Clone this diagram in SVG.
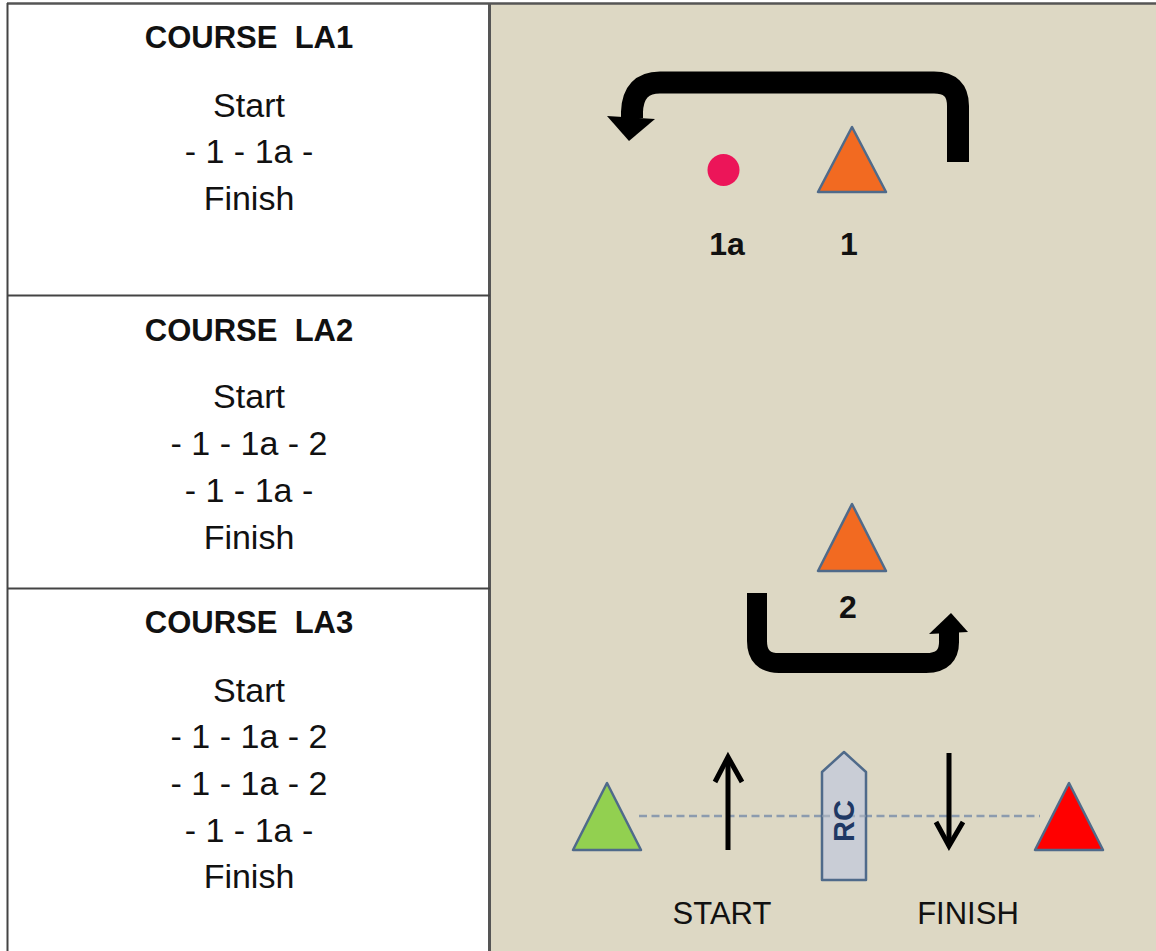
<svg xmlns="http://www.w3.org/2000/svg" width="1156" height="951" viewBox="0 0 1156 951">
  <defs>
    <style>
      .title { font-family: "Liberation Sans", Arial, sans-serif; font-weight: bold; font-size: 31px; fill: #111; text-anchor: middle; white-space: pre; }
      .body { font-family: "Liberation Sans", Arial, sans-serif; font-size: 34px; fill: #111; text-anchor: middle; }
      .lbl { font-family: "Liberation Sans", Arial, sans-serif; font-weight: bold; font-size: 32px; fill: #111; text-anchor: middle; }
      .line-lbl { font-family: "Liberation Sans", Arial, sans-serif; font-size: 31px; fill: #111; text-anchor: middle; }
      .mark { stroke: #4F6A8A; stroke-width: 2.5; stroke-linejoin: round; }
      .orange { fill: #F26A21; }
      .thick { fill: none; stroke: #000; stroke-linecap: butt; stroke-linejoin: round; }
      .thin { fill: none; stroke: #000; stroke-width: 5; stroke-linecap: butt; stroke-linejoin: miter; }
    </style>
  </defs>

  <!-- backgrounds -->
  <rect x="0" y="0" width="1156" height="951" fill="#fff"/>
  <rect x="490" y="3" width="666" height="948" fill="#DDD8C4"/>
  <line x1="7" y1="3.5" x2="1156" y2="3.5" stroke="#555" stroke-width="2.5"/>
  <line x1="7.5" y1="3" x2="7.5" y2="951" stroke="#444" stroke-width="2"/>
  <line x1="489.5" y1="3" x2="489.5" y2="951" stroke="#555" stroke-width="3"/>
  <line x1="7" y1="295.5" x2="490" y2="295.5" stroke="#444" stroke-width="2"/>
  <line x1="7" y1="588.5" x2="490" y2="588.5" stroke="#444" stroke-width="2"/>

  <!-- course table -->
  <g id="course-la1">
    <text class="title" x="249" y="48" xml:space="preserve">COURSE  LA1</text>
    <text class="body" x="249" y="117">Start</text>
    <text class="body" x="249" y="163">- 1 - 1a -</text>
    <text class="body" x="249" y="210">Finish</text>
  </g>
  <g id="course-la2">
    <text class="title" x="249" y="341" xml:space="preserve">COURSE  LA2</text>
    <text class="body" x="249" y="408">Start</text>
    <text class="body" x="249" y="455">- 1 - 1a - 2</text>
    <text class="body" x="249" y="502">- 1 - 1a -</text>
    <text class="body" x="249" y="549">Finish</text>
  </g>
  <g id="course-la3">
    <text class="title" x="249" y="633" xml:space="preserve">COURSE  LA3</text>
    <text class="body" x="249" y="702">Start</text>
    <text class="body" x="249" y="748">- 1 - 1a - 2</text>
    <text class="body" x="249" y="795">- 1 - 1a - 2</text>
    <text class="body" x="249" y="842">- 1 - 1a -</text>
    <text class="body" x="249" y="888">Finish</text>
  </g>

  <!-- connectors -->
  <g id="connectors">
    <path class="thick" stroke-width="22" d="M958,162 V106 Q958,82.5 934,82.5 H660 Q633,82.5 632,112 V118"/>
    <polygon points="607,116 655,119 629,141" fill="#000"/>
    <path class="thick" stroke-width="20" d="M757,593 V641 Q757,663 779,663 H926 Q950,663 949,640 V632"/>
    <polygon points="929,634 968,632 951,613" fill="#000"/>
    <line x1="639" y1="816" x2="1040" y2="816" stroke="#8C9BAE" stroke-width="2.5" stroke-dasharray="8 4.5"/>
    <polyline class="thin" points="728,850 728,758"/>
    <polyline class="thin" points="715,782 728,757 742,782"/>
    <polyline class="thin" points="949,753 949,844"/>
    <polyline class="thin" points="936,822 949,846 963,822"/>
  </g>

  <!-- marks -->
  <g id="mark-1">
    <polygon class="mark orange" points="852,127 818,192 886,192"/>
    <text class="lbl" x="849" y="255">1</text>
  </g>
  <g id="mark-1a">
    <circle cx="723.5" cy="170" r="16" fill="#EC1559"/>
    <text class="lbl" x="727" y="255">1a</text>
  </g>
  <g id="mark-2">
    <polygon class="mark orange" points="852,504 818,571 886,571"/>
    <text class="lbl" x="848" y="618">2</text>
  </g>
  <g id="start-pin">
    <polygon class="mark" fill="#92D050" points="607,783 573,850 641,850"/>
  </g>
  <g id="finish-pin">
    <polygon class="mark" fill="#FF0000" points="1069,783 1035,850 1103,850"/>
  </g>
  <g id="rc-boat">
    <polygon points="822,772 844,752 866,772 866,880 822,880" fill="#C9CDD6" stroke="#4F6A8A" stroke-width="2.5" stroke-linejoin="round"/>
    <line x1="822" y1="816" x2="866" y2="816" stroke="#8C9BAE" stroke-width="2.5" stroke-dasharray="8 4.5" opacity="0.6"/>
    <text transform="translate(854,821) rotate(-90)" font-family="Liberation Sans, Arial, sans-serif" font-weight="bold" font-size="29" fill="#1F3864" text-anchor="middle">RC</text>
  </g>
  <g id="labels">
    <text class="line-lbl" x="722" y="924">START</text>
    <text class="line-lbl" x="968" y="924">FINISH</text>
  </g>
</svg>
